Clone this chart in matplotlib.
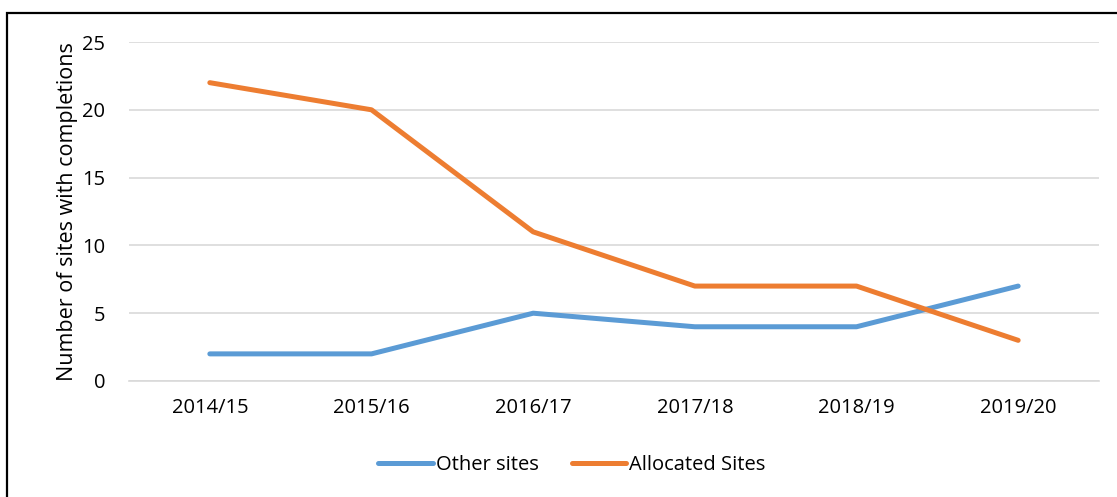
import matplotlib
matplotlib.use("Agg")
import matplotlib.pyplot as plt
from matplotlib.patches import Rectangle

years = ["2014/15", "2015/16", "2016/17", "2017/18", "2018/19", "2019/20"]
other_sites = [2, 2, 5, 4, 4, 7]
allocated_sites = [22, 20, 11, 7, 7, 3]

plt.rcParams["font.family"] = ["Open Sans", "DejaVu Sans"]

W, H = 1117, 497
fig = plt.figure(figsize=(W / 100, H / 100), dpi=100)
ax = fig.add_axes([129 / W, 1 - 381 / H, 970 / W, 339 / H])

x = range(len(years))
ax.plot(x, other_sites, color="#5B9BD5", lw=3.6, solid_capstyle="round",
        solid_joinstyle="round", label="Other sites", zorder=3)
ax.plot(x, allocated_sites, color="#ED7D31", lw=3.6, solid_capstyle="round",
        solid_joinstyle="round", label="Allocated Sites", zorder=3)

ax.set_xlim(-0.5, len(years) - 0.5)
ax.set_ylim(0, 25)
ax.set_yticks(range(0, 26, 5))
ax.set_xticks(list(x))
ax.set_xticklabels(years)
ax.yaxis.grid(True, color="#D9D9D9", lw=1.2)
ax.set_axisbelow(True)
for s in ["top", "right", "left"]:
    ax.spines[s].set_visible(False)
ax.spines["bottom"].set_color("#D9D9D9")
ax.spines["bottom"].set_linewidth(1.2)
ax.tick_params(length=0, labelsize=14.5, colors="black")
ax.tick_params(axis="x", pad=12)
ax.tick_params(axis="y", pad=17)
ax.set_ylabel("Number of sites with completions", fontsize=15.5, labelpad=3)

leg = fig.legend(loc="center", bbox_to_anchor=(572 / W, 1 - 465 / H), ncol=2,
                 frameon=False, fontsize=14.5, handlelength=2.7,
                 handletextpad=0.15, columnspacing=1.65)

fig.patches.append(Rectangle((7 / W, -0.05), 1.2, 1 - 13 / H + 0.05,
                             transform=fig.transFigure, fill=False,
                             edgecolor="black", lw=1.6))

fig.savefig("out.png", dpi=100)
